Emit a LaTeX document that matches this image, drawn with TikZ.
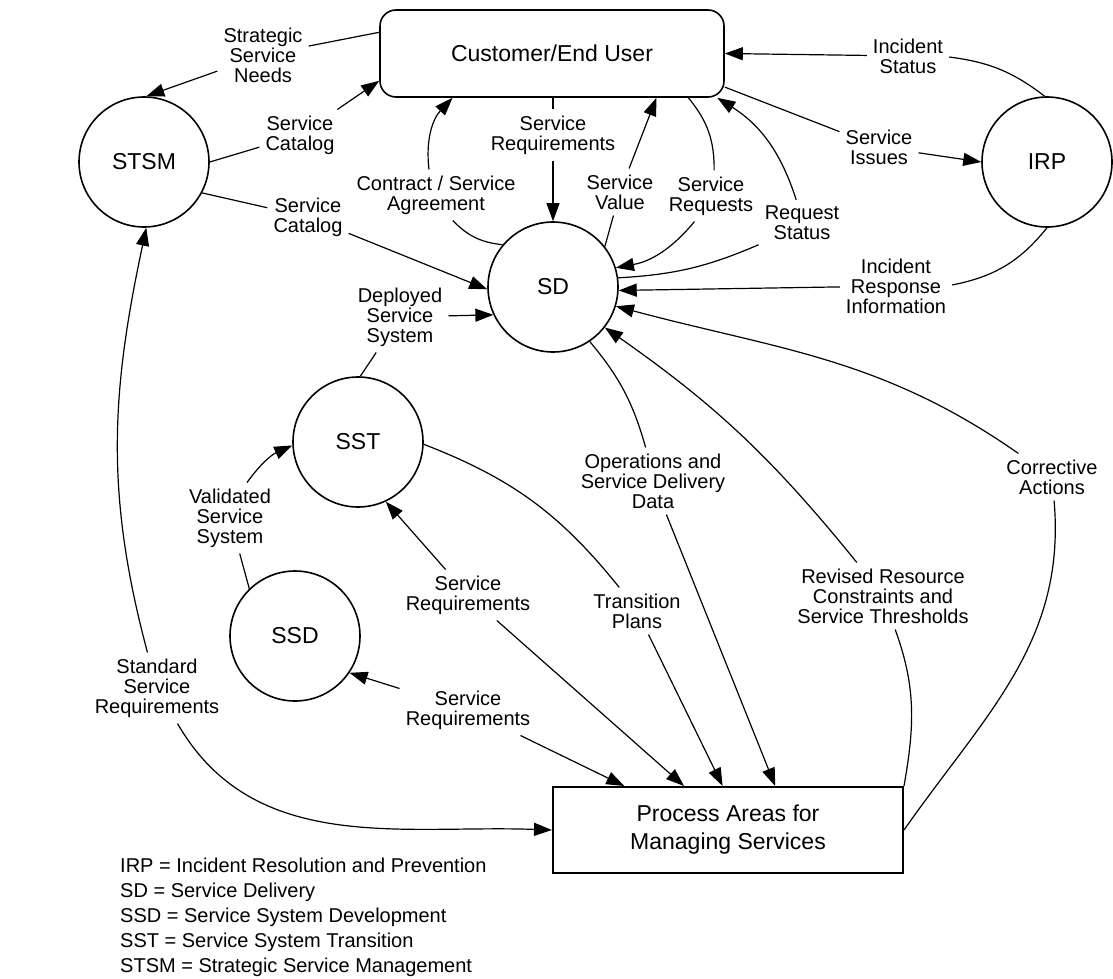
\documentclass[tikz,border=0pt]{standalone}
\usepackage{fontspec}
\setmainfont{Liberation Sans}
\usetikzlibrary{arrows.meta}

\begin{document}
\begin{tikzpicture}[
    x=1pt, y=1pt,
    proc/.style={
      draw, circle, line width=1.6pt, minimum size=130pt,
      inner sep=0pt, font=\fontsize{23}{28}\selectfont
    },
    ext/.style={
      draw, rounded corners=16pt, line width=1.6pt,
      minimum width=344pt, minimum height=87pt,
      font=\fontsize{23}{28}\selectfont
    },
    area/.style={
      draw, line width=2pt, minimum width=350pt, minimum height=86pt,
      align=center, font=\fontsize{23}{28}\selectfont
    },
    lbl/.style={align=center, inner sep=6pt, font=\fontsize{20}{20}\selectfont},
    flow/.style={line width=1.2pt},
    arr/.style={flow, -{Triangle[length=18pt, width=13pt]}}
  ]
    \useasboundingbox (0,0) rectangle (1113,-979);

    % Customer, process areas and the box at the bottom
    \node[ext] (cust) at (552,-53.5) {Customer/End User};
    \node[proc] (stsm) at (144,-162) {STSM};
    \node[proc] (irp) at (1047,-162) {IRP};
    \node[proc] (sd) at (553,-287) {SD};
    \node[proc] (sst) at (358,-442) {SST};
    \node[proc] (ssd) at (295,-636) {SSD};
    \node[area] (pam) at (728,-830) {Process Areas for\\Managing Services};

    % Flow labels
    \node[lbl] (lSSN) at (263,-55) {Strategic\\Service\\Needs};
    \node[lbl] (lSC1) at (300,-135) {Service\\Catalog};
    \node[lbl] (lSC2) at (308,-217) {Service\\Catalog};
    \node[lbl] (lSR1) at (553,-135) {Service\\Requirements};
    \node[lbl] (lCSA) at (436,-195) {Contract / Service\\Agreement};
    \node[lbl] (lSV) at (620,-192) {Service\\Value};
    \node[lbl] (lSRq) at (711,-196) {Service\\Requests};
    \node[lbl] (lRS) at (802,-223) {Request\\Status};
    \node[lbl] (lIS) at (908,-56) {Incident\\Status};
    \node[lbl] (lSI) at (879,-147) {Service\\Issues};
    \node[lbl] (lIRI) at (896,-286) {Incident\\Response\\Information};
    \node[lbl] (lDSS) at (400,-317) {Deployed\\Service\\System};
    \node[lbl] (lVSS) at (230,-518) {Validated\\Service\\System};
    \node[lbl] (lSR2) at (468,-595) {Service\\Requirements};
    \node[lbl] (lSR3) at (468,-710) {Service\\Requirements};
    \node[lbl] (lTP) at (637,-611) {Transition\\Plans};
    \node[lbl] (lOSD) at (653,-481) {Operations and\\Service Delivery\\Data};
    \node[lbl] (lRRC) at (883,-596) {Revised Resource\\Constraints and\\Service Thresholds};
    \node[lbl] (lCA) at (1052,-477) {Corrective\\Actions};
    \node[lbl] (lSSR) at (157,-688) {Standard\\Service\\Requirements};

    % Customer and STSM
    \draw[flow] (cust.173) -- (lSSN);
    \draw[arr] (lSSN) -- (stsm.88);
    \draw[flow] (stsm.east) -- (lSC1);
    \draw[arr] (lSC1) -- (cust.189);
    \draw[flow] (stsm.-28) -- (lSC2);
    \draw[arr] (lSC2) -- (sd.182);

    % Customer and SD
    \draw[flow] (lSR1 |- cust.south) -- (lSR1);
    \draw[arr] (lSR1) -- (sd);
    \draw[flow] (sd.140) to[bend left=20] (lCSA);
    \draw[arr] (lCSA) to[bend left=25] (cust.204);
    \draw[flow] (sd.38) -- (lSV);
    \draw[arr] (lSV) -- (cust.-23);
    \draw[flow] (cust.-18.5) to[bend left=20] (lSRq);
    \draw[arr] (lSRq) to[bend left=20] (sd.17);
    \draw[flow] (sd.8) to[bend right=10] (lRS);
    \draw[arr] (lRS) to[bend right=20] (cust.-15);

    % Customer, IRP and SD
    \draw[flow] (irp.92) to[bend right=15] (lIS);
    \draw[arr] (lIS) -- (cust.east);
    \draw[flow] (cust.-11) -- (lSI);
    \draw[arr] (lSI) -- (irp.west);
    \draw[flow] (irp.south) to[bend left=20] (lIRI);
    \draw[arr] (lIRI) -- (sd.-3);

    % Process areas box
    \draw[flow] (pam.east) to[out=55, in=-85] (lCA);
    \draw[arr] (lCA) to[out=145, in=-15] (sd.-17);
    \draw[flow] (pam.north east) to[out=80, in=-70] (lRRC);
    \draw[arr] (lRRC) to[bend right=8] (sd.-38);
    \draw[flow] (sd.-56) to[bend left=12] (lOSD);
    \draw[arr] (lOSD) -- (pam.43);
    \draw[flow] (sst.-2) to[bend left=15] (lTP);
    \draw[arr] (lTP) -- (pam.97);
    \draw[arr] (lSR2) -- (pam.135);
    \draw[arr] (lSR2) -- (sst.-65);
    \draw[arr] (lSR3) -- (pam.157);
    \draw[arr] (lSR3) -- (ssd.-34);

    % SSD, SST and STSM
    \draw[flow] (sst.88) -- (lDSS);
    \draw[arr] (lDSS) -- (sd.205);
    \draw[flow] (ssd.134) -- (lVSS);
    \draw[arr] (lVSS) to[bend left=15] (sst.183);
    \draw[arr] (lSSR) to[out=105, in=-102] (stsm.-88);
    \draw[arr] (lSSR) to[out=-60, in=178] (pam.west);

    % Legend
    \node[anchor=north west, align=left, inner sep=0pt,
          font=\fontsize{20}{25}\selectfont] (legend) at (120,-858)
      {IRP = Incident Resolution and Prevention\\
       SD = Service Delivery\\
       SSD = Service System Development\\
       SST = Service System Transition\\
       STSM = Strategic Service Management};
\end{tikzpicture}
\end{document}
